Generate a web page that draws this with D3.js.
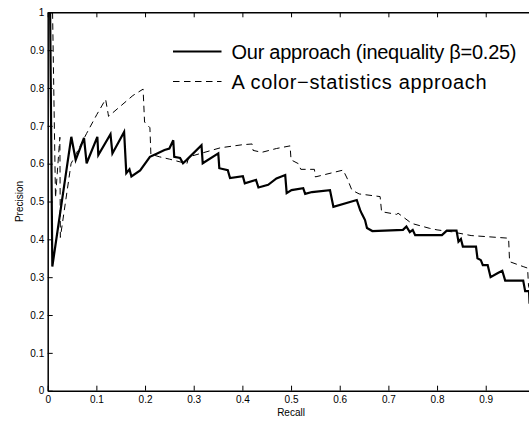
<!DOCTYPE html>
<html>
<head>
<meta charset="utf-8">
<script src="https://cdn.jsdelivr.net/npm/d3@7/dist/d3.min.js"></script>
<style>
  body { margin: 0; background: #fff; }
  text { font-family: "Liberation Sans", Arial, Helvetica, sans-serif; fill: #000; }
</style>
</head>
<body>
<svg id="chart" width="529" height="421"></svg>
<script>
// values
const xTicks = [0, 0.1, 0.2, 0.3, 0.4, 0.5, 0.6, 0.7, 0.8, 0.9, 1];
const yTicks = [0, 0.1, 0.2, 0.3, 0.4, 0.5, 0.6, 0.7, 0.8, 0.9, 1];
const tickLabels = ["0", "0.1", "0.2", "0.3", "0.4", "0.5", "0.6", "0.7", "0.8", "0.9", "1"];

// solid curve: "Our approach"
const ourRecall = [0.005, 0.0095, 0.0485, 0.0575, 0.0746, 0.080, 0.102, 0.104, 0.129, 0.133, 0.157, 0.1615,
  0.168, 0.172, 0.19, 0.21, 0.225, 0.24, 0.25, 0.258, 0.260, 0.272, 0.278, 0.2856, 0.316, 0.3185, 0.3505, 0.3526,
  0.370, 0.3746, 0.401, 0.405, 0.428, 0.433, 0.453, 0.470, 0.488, 0.491, 0.501, 0.525, 0.529, 0.543, 0.580, 0.587,
  0.635, 0.642, 0.646, 0.652, 0.656, 0.667, 0.730, 0.737, 0.744, 0.750, 0.755, 0.810, 0.820, 0.840, 0.844, 0.849,
  0.853, 0.880, 0.883, 0.890, 0.894, 0.904, 0.910, 0.925, 0.934, 0.940, 0.977, 0.981, 0.989, 0.990, 1.0];
const ourPrecision = [1.0, 0.328, 0.671, 0.610, 0.668, 0.601, 0.671, 0.623, 0.678, 0.627, 0.684, 0.575,
  0.585, 0.566, 0.582, 0.618, 0.627, 0.636, 0.640, 0.662, 0.618, 0.615, 0.601, 0.610, 0.649, 0.601, 0.627, 0.588,
  0.583, 0.562, 0.567, 0.548, 0.557, 0.537, 0.544, 0.561, 0.570, 0.522, 0.530, 0.535, 0.520, 0.525, 0.530, 0.486,
  0.504, 0.477, 0.466, 0.451, 0.430, 0.422, 0.425, 0.434, 0.419, 0.425, 0.411, 0.411, 0.423, 0.423, 0.394, 0.401,
  0.381, 0.381, 0.350, 0.345, 0.332, 0.332, 0.300, 0.311, 0.317, 0.291, 0.291, 0.263, 0.263, 0.232, 0.21];

// dashed curve: "A color-statistics approach"
const colorRecall = [0.010, 0.016, 0.025, 0.026, 0.048, 0.080, 0.101, 0.119, 0.124, 0.125, 0.175, 0.196, 0.199,
  0.210, 0.212, 0.230, 0.250, 0.286, 0.290, 0.355, 0.400, 0.420, 0.422, 0.440, 0.470, 0.498, 0.500, 0.515, 0.520,
  0.548, 0.550, 0.607, 0.615, 0.625, 0.640, 0.683, 0.686, 0.717, 0.720, 0.748, 0.785, 0.800, 0.830, 0.870, 0.947,
  0.949, 0.977, 0.986, 0.988, 1.0];
const colorPrecision = [1.0, 0.51, 0.67, 0.405, 0.60, 0.68, 0.73, 0.77, 0.733, 0.725, 0.78, 0.797, 0.71,
  0.695, 0.625, 0.618, 0.612, 0.600, 0.618, 0.642, 0.650, 0.652, 0.635, 0.630, 0.640, 0.647, 0.610, 0.600, 0.585,
  0.585, 0.565, 0.583, 0.562, 0.530, 0.520, 0.513, 0.473, 0.466, 0.469, 0.442, 0.429, 0.425, 0.420, 0.410, 0.403,
  0.341, 0.328, 0.324, 0.275, 0.25];

const legendLabels = ["Our approach (inequality \u03b2=0.25)", "A color\u2212statistics approach"];
const legendWidths = [285, 255];

const svg = d3.select("#chart");
const mLeft = 47.7, mRight = 534.4, mTop = 12.3, mBottom = 390.7;

const x = d3.scaleLinear().domain([0, 1]).range([mLeft, mRight]);
const y = d3.scaleLinear().domain([0, 1]).range([mBottom, mTop]);

// clip to the axes box
svg.append("clipPath").attr("id", "plotclip")
  .append("rect").attr("x", mLeft).attr("y", mTop).attr("width", mRight - mLeft).attr("height", mBottom - mTop);

const line = d3.line().x(d => x(d[0])).y(d => y(d[1]));
const ourData = ourRecall.map((r, i) => [r, ourPrecision[i]]);
const colorData = colorRecall.map((r, i) => [r, colorPrecision[i]]);

const plot = svg.append("g").attr("clip-path", "url(#plotclip)");
plot.append("path").datum(colorData)
  .attr("d", line).attr("fill", "none").attr("stroke", "#000")
  .attr("stroke-width", 1).attr("stroke-dasharray", "6.5,4.5");
plot.append("path").datum(ourData)
  .attr("d", line).attr("fill", "none").attr("stroke", "#000")
  .attr("stroke-width", 2.2).attr("stroke-linejoin", "miter");

// axes: ticks point inward, top/right with no labels
// the x=1 label falls outside the 529px picture, as in the reference
const xAxis = d3.axisBottom(x).tickValues(xTicks).tickSizeInner(-5).tickSizeOuter(0).tickPadding(5)
  .tickFormat(d => (x(d) > 529 ? "" : tickLabels[xTicks.indexOf(d)]));
const xTop = d3.axisTop(x).tickValues(xTicks).tickSizeInner(-5).tickSizeOuter(0).tickFormat("");
const yAxis = d3.axisLeft(y).tickValues(yTicks).tickSizeInner(-5).tickSizeOuter(0).tickPadding(3.5)
  .tickFormat(d => tickLabels[yTicks.indexOf(d)]);
const yRight = d3.axisRight(y).tickValues(yTicks).tickSizeInner(-5).tickSizeOuter(0).tickFormat("");

function styleAxis(g) {
  g.select(".domain").attr("stroke", "#000").attr("stroke-width", 1.5);
  g.selectAll(".tick line").attr("stroke", "#000").attr("stroke-width", 1);
  g.selectAll(".tick text").attr("font-size", 10).attr("fill", "#000")
    .style("font-family", '"Liberation Sans", Arial, sans-serif');
}
svg.append("g").attr("transform", `translate(0,${mBottom})`).call(xAxis).call(styleAxis);
svg.append("g").attr("transform", `translate(0,${mTop})`).call(xTop).call(styleAxis);
svg.append("g").attr("transform", `translate(${mLeft},0)`).call(yAxis).call(styleAxis);
svg.append("g").attr("transform", `translate(${mRight},0)`).call(yRight).call(styleAxis);

// axis titles
svg.append("text").attr("x", x(0.5)).attr("y", 415.5).attr("text-anchor", "middle")
  .attr("font-size", 10).text("Recall");
svg.append("text").attr("transform", `translate(23,${y(0.5)}) rotate(-90)`).attr("text-anchor", "middle")
  .attr("font-size", 10).text("Precision");

// legend
const legend = svg.append("g");
[51.5, 81.5].forEach((ly, i) => {
  legend.append("line").attr("x1", 173).attr("x2", 221.5).attr("y1", ly).attr("y2", ly)
    .attr("stroke", "#000").attr("stroke-width", i === 0 ? 2.2 : 1)
    .attr("stroke-dasharray", i === 0 ? null : "6.5,4.5");
  legend.append("text").attr("x", 231.5).attr("y", ly).attr("dy", "0.36em")
    .attr("font-size", 20).attr("textLength", legendWidths[i]).attr("lengthAdjust", "spacing")
    .text(legendLabels[i]);
});
</script>
</body>
</html>
